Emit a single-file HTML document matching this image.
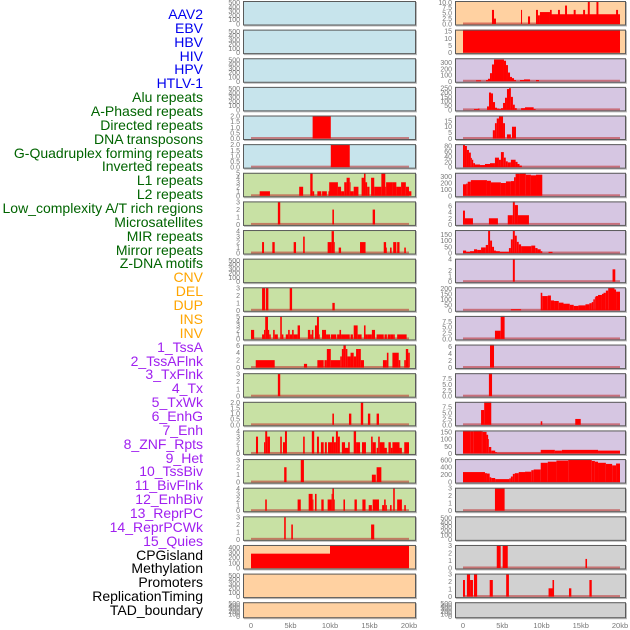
<!DOCTYPE html>
<html><head><meta charset="utf-8">
<style>
html,body{margin:0;padding:0;background:#fff;}
#root{position:relative;width:630px;height:630px;overflow:hidden;font-family:"Liberation Sans",sans-serif;}
.lab{position:absolute;right:427px;font-size:14px;line-height:14px;white-space:nowrap;}
</style></head>
<body>
<div id="root">
<div id="labels"></div>
<svg id="chart" width="630" height="630" style="position:absolute;left:0;top:0"></svg>
</div>
<script>
const trackLabels = ["AAV2","EBV","HBV","HIV","HPV","HTLV-1","Alu repeats","A-Phased repeats","Directed repeats","DNA transposons","G-Quadruplex forming repeats","Inverted repeats","L1 repeats","L2 repeats","Low_complexity A/T rich regions","Microsatellites","MIR repeats","Mirror repeats","Z-DNA motifs","CNV","DEL","DUP","INS","INV","1_TssA","2_TssAFlnk","3_TxFlnk","4_Tx","5_TxWk","6_EnhG","7_Enh","8_ZNF_Rpts","9_Het","10_TssBiv","11_BivFlnk","12_EnhBiv","13_ReprPC","14_ReprPCWk","15_Quies","CPGisland","Methylation","Promoters","ReplicationTiming","TAD_boundary"];
const labelGroups = [6,13,5,15,5];
const groupColors = ["#0000ee","#006400","#ffa500","#a020f0","#000000"];
const xTickLabels = ["0","5kb","10kb","15kb","20kb"];
const xTickValues = [0,5,10,15,20];

const t500=[0,100,200,300,400,500];
const t2=[0,0.5,1.0,1.5,2.0];
// left column segments [startKb,endKb,value]
const segL4=[[7.8,10.1,2]];
const segL5=[[10.1,12.5,2]];
const segL6=[[1.1,2.4,1],[6.1,6.6,2],[7.5,7.8,5],[7.8,8.0,1],[8.4,8.9,1],[9.0,9.6,1],[9.8,10.0,1],[9.9,11.0,3],[11.0,11.4,2],[11.4,11.8,1],[11.8,12.1,3],[12.1,12.5,4],[12.5,12.6,3],[12.6,13.0,1],[13.0,13.6,2],[14.0,14.3,4],[14.3,14.5,5],[14.5,14.7,3],[14.7,15.0,2],[15.2,15.6,4],[15.6,16.5,2],[16.5,17.0,5],[17.0,17.1,2],[17.1,17.9,3],[17.9,18.4,3],[18.4,19.0,2],[19.0,19.6,3],[19.6,20.0,2],[20.0,20.3,1]];
const segL7=[[3.4,3.7,3],[10.3,10.5,2],[15.4,15.7,2]];
const segL8=[[1.4,1.65,2],[2.7,3.0,2],[5.4,5.7,2],[6.6,6.8,3],[9.7,10.2,2],[10.2,10.5,4],[10.5,10.6,2],[11.1,11.4,1],[13.8,14.5,2],[16.8,17.1,2],[17.1,17.2,1],[17.6,17.8,1],[18.0,18.4,2],[18.5,18.8,2],[19.4,19.6,1]];
const segL10=[[1.4,1.8,3],[1.9,2.2,3],[4.9,5.2,3],[10.3,10.6,1]];
const segL11=[[0,0.4,2],[1.4,1.65,1],[1.65,1.8,2],[1.8,2.15,5],[2.15,2.3,2],[2.3,2.5,1],[2.8,3.0,2],[3.0,3.4,1],[3.7,3.9,5],[3.9,4.1,1],[4.4,4.7,1],[4.7,4.9,2],[4.9,5.2,1],[5.2,5.4,2],[5.4,5.9,1],[5.9,6.2,3],[7.2,7.5,2],[7.5,7.7,1],[7.7,7.9,2],[8.1,8.35,3],[8.35,8.6,5],[8.6,8.7,1],[8.99,9.5,2],[9.5,9.75,1],[9.75,10.0,1],[10.1,10.8,1],[10.9,11.2,1],[11.2,11.4,2],[11.4,11.9,1],[11.9,12.5,1],[12.6,12.9,1],[13.0,13.5,3],[13.5,14.0,1],[14.3,14.5,3],[14.5,14.8,1],[14.8,15.3,1],[15.3,15.7,2],[15.9,16.2,1],[16.2,16.8,1],[16.9,17.2,1],[17.3,17.7,1],[17.7,18.0,1],[18.0,18.2,1],[18.5,19.7,1]];
const segL12=[[0.6,3.0,2],[6.7,7.1,1],[8.4,9.2,2],[9.3,9.6,2],[9.6,10.1,5],[10.1,11.3,2],[11.3,11.5,3],[11.5,11.7,5],[11.7,12.0,6],[12.0,12.2,5],[12.2,12.6,3],[12.6,13.0,4],[13.0,13.3,3],[13.3,13.6,5],[13.6,13.9,5],[13.9,14.3,2],[16.7,17.2,2],[17.2,17.4,4],[17.9,18.7,4],[18.7,18.9,2],[19.4,19.6,2],[19.6,19.9,5],[19.9,20.1,4]];
const segL13=[[3.4,3.7,3]];
const segL14=[[10.3,10.5,1],[12.4,12.7,1],[13.9,14.2,2],[14.8,15.1,1],[15.9,16.2,1]];
const segL15=[[0.63,0.89,3],[1.65,1.8,2],[1.8,2.05,4],[2.05,2.4,3],[3.7,3.9,3],[4.05,4.3,2],[4.3,4.55,4],[6.6,6.8,3],[7.7,8.0,4],[8.35,8.6,3],[8.85,9.2,2],[9.35,9.6,2],[9.75,10.25,2],[10.25,10.5,3],[10.5,10.75,2],[10.75,11.0,4],[11.0,11.25,3],[11.5,11.9,2],[11.9,12.4,1],[12.3,12.5,2],[13.0,13.3,4],[13.3,13.8,2],[14.05,14.55,2],[15.2,15.4,3],[15.4,15.8,2],[15.9,16.1,1],[16.1,16.3,3],[16.3,16.9,2],[16.9,17.2,1],[17.4,17.7,2],[17.7,17.9,1],[17.9,18.8,2],[18.8,19.1,1],[19.4,20.0,2]];
const segL16=[[4.2,4.5,2],[6.3,6.7,3],[15.3,15.8,1],[15.9,16.5,2]];
const segL17=[[1.8,2.0,2],[5.9,6.3,2],[7.3,7.8,3],[7.8,7.9,2],[8.1,8.3,3],[8.9,9.2,2],[9.7,10.2,2],[10.2,10.3,3],[10.3,10.5,4],[10.5,10.6,2],[11.7,11.9,2],[13.1,13.4,2],[14.1,14.5,2],[14.9,15.3,1],[15.4,16.2,2],[16.6,16.85,1],[16.85,17.05,2],[17.05,17.2,1],[17.6,17.8,1],[18.0,18.2,4],[18.5,19.1,2],[19.4,19.6,1]];
const segL18=[[4.2,4.4,3],[5.1,5.3,2],[15.2,15.6,2]];
const segL19=[[0,10.0,280],[10.0,20.0,450]];
// right column segments
const segR0=[[3.69,3.95,6.5],[3.95,4.2,2.5],[7.39,7.52,6.5],[8.28,8.54,3.5],[9.3,9.55,6.5],[9.55,9.8,4],[9.8,11.08,5.5],[11.08,20.0,4.5],[11.08,11.3,6.5],[12.1,12.35,6.5],[13.0,13.25,8.5],[14.1,14.35,6.5],[15.3,15.55,6.5],[15.9,16.15,10.5],[17.0,17.25,10.5],[19.5,19.75,6.5]];
const segR1=[[0,20,16]];
const segR2=[[1.66,2.29,15],[2.93,3.18,20],[3.18,3.44,40],[3.44,3.69,130],[3.69,3.95,270],[3.95,5.22,350],[5.22,5.48,330],[5.48,5.73,260],[5.73,5.99,140],[5.99,6.24,70],[6.24,6.5,50],[6.5,6.75,20],[7.26,7.77,20],[7.77,8.54,30],[9.3,9.68,20]];
const segR3=[[1.4,1.9,10],[1.9,2.1,15],[3.06,3.31,40],[3.31,3.57,200],[3.57,3.82,190],[3.82,4.08,90],[4.08,4.33,25],[4.33,4.59,15],[4.59,4.84,10],[4.84,5.1,20],[5.1,5.35,80],[5.35,5.6,140],[5.6,5.86,240],[5.86,6.1,250],[6.1,6.36,150],[6.36,6.6,60],[6.6,6.85,20],[7.4,7.9,20],[7.9,9.0,30],[9.0,9.25,10]];
const segR4=[[3.8,4.07,7],[4.07,4.3,13],[4.3,4.58,17],[4.58,5.1,19],[5.1,5.35,13],[5.6,6.1,3.5],[6.1,6.24,0.5],[6.24,6.75,10]];
const segR5=[[0,0.25,85],[0.25,0.5,80],[0.5,0.76,65],[0.76,1.0,55],[1.0,1.13,35],[1.13,1.3,28],[1.3,1.53,15],[1.53,2.17,10],[2.17,2.8,8],[2.8,3.44,12],[3.44,4.07,15],[4.07,4.58,36],[4.58,4.83,28],[4.83,5.2,57],[5.2,5.45,36],[5.45,5.7,22],[5.7,6.1,18],[6.1,6.7,28],[6.7,6.95,20],[6.95,7.2,12],[7.2,7.5,6]];
const segR6=[[0,0.4,180],[0.4,0.6,190],[0.6,1.0,220],[1.0,3.05,245],[3.05,3.56,235],[3.56,4.83,210],[4.83,5.47,200],[5.47,6.1,225],[6.1,6.5,230],[6.5,6.7,290],[6.7,7.25,345],[7.25,8.0,355],[8.0,8.65,330],[8.65,9.3,320],[9.3,10.1,330]];
const segR7=[[0,0.25,4.5],[0.25,1.27,2],[3.3,4.45,2],[5.7,6.35,3],[6.35,6.6,7.5],[6.6,7.0,6.3],[7.0,8.4,3]];
const segR8=[[0,0.4,20],[0.4,0.9,10],[0.9,1.4,15],[1.4,1.8,30],[1.8,2.3,25],[2.3,2.9,45],[2.9,3.2,65],[3.2,3.45,180],[3.45,3.7,100],[3.7,3.95,50],[3.95,4.2,20],[4.2,4.7,15],[4.7,5.85,10],[5.85,6.1,40],[6.1,6.35,110],[6.35,6.6,180],[6.6,6.85,140],[6.85,7.1,90],[7.1,7.4,70],[7.4,8.7,55],[8.7,9.2,60],[9.2,9.5,40],[9.5,9.9,30],[9.9,10.1,15],[10.9,11.4,10]];
const segR9=[[6.35,6.6,4],[19.05,19.4,2.2]];
const segR10=[[6.1,7.4,10],[9.9,10.1,160],[10.1,10.8,130],[10.8,11.2,135],[11.2,11.6,90],[11.6,12.2,85],[12.2,12.8,70],[12.8,13.6,60],[13.6,14.1,50],[14.1,14.7,40],[14.7,15.6,45],[15.6,16.1,55],[16.1,16.4,65],[16.4,16.6,75],[16.6,16.8,100],[16.8,16.9,120],[16.9,17.2,130],[17.2,17.7,140],[17.7,17.9,150],[17.9,18.2,160],[18.2,18.5,180],[18.5,19.3,205],[19.3,19.5,190],[19.5,20.0,170]];
const segR11=[[4.07,4.8,3.5],[4.8,5.3,9.8]];
const segR12=[[3.44,3.95,6.5]];
const segR13=[[3.3,3.7,9.8]];
const segR14=[[2.3,2.7,6.3],[2.7,3.6,9.8],[9.9,10.1,1.5],[14.3,15.0,2.5]];
const segR15=[[0,1.0,160],[1.0,1.3,155],[1.3,2.3,160],[2.3,2.5,155],[2.5,3.0,150],[3.0,3.2,130],[3.2,3.3,100],[3.3,3.6,45],[3.6,4.1,20],[4.1,4.3,10],[4.3,9.9,5],[9.9,11.7,25],[11.7,12.6,20],[12.6,17.2,25],[17.2,20.0,20]];
const segR16=[[0,2.8,270],[2.8,3.05,240],[3.05,3.4,230],[3.4,3.6,130],[3.6,4.1,110],[4.1,5.9,80],[5.9,6.1,100],[6.1,6.35,150],[6.35,6.6,220],[6.6,7.1,240],[7.1,7.9,270],[7.9,8.7,280],[8.7,9.0,320],[9.0,9.9,340],[9.9,10.8,520],[10.8,11.9,550],[11.9,13.4,580],[13.4,16.4,600],[16.4,16.8,570],[16.8,17.2,550],[17.2,18.2,520],[18.2,19.0,490],[19.0,19.5,450],[19.5,20.0,500]];
const segR17=[[4.07,5.3,3]];
const segR19=[[4.3,4.8,3],[5.05,5.7,3],[15.6,15.8,1.2]];
const segR20=[[0,0.25,2.2],[0.5,0.9,3],[0.9,1.27,2.2],[1.4,1.8,3],[3.4,3.8,2.2],[5.5,5.85,3],[10.9,11.4,1.1],[11.4,11.6,2.2],[13.5,13.8,1.1],[16.1,16.4,2.2]];

const BLUE="#c7e4ec",GREEN="#c8e1a4",PEACH="#ffd1a1",LAV="#d6c6e2",GRAY="#d1d1d1";
// [col,row,bg,ymax,ticks,segs]
const panels=[
[0,0,BLUE,540,t500,null],[0,1,BLUE,540,t500,null],[0,2,BLUE,540,t500,null],[0,3,BLUE,540,t500,null],
[0,4,BLUE,2.05,t2,segL4],[0,5,BLUE,2.05,t2,segL5],
[0,6,GREEN,5.1,[0,1,2,3,4,5],segL6],[0,7,GREEN,3.1,[0,1,2,3],segL7],[0,8,GREEN,4.2,[0,1,2,3,4],segL8],
[0,9,GREEN,540,t500,null],[0,10,GREEN,3.1,[0,1,2,3],segL10],[0,11,GREEN,5.1,[0,1,2,3,4,5],segL11],
[0,12,GREEN,6.2,[0,2,4,6],segL12],[0,13,GREEN,3.1,[0,1,2,3],segL13],[0,14,GREEN,2.05,t2,segL14],
[0,15,GREEN,4.1,[0,1,2,3,4],segL15],[0,16,GREEN,3.1,[0,1,2,3],segL16],[0,17,GREEN,4.1,[0,1,2,3,4],segL17],
[0,18,GREEN,3.1,[0,1,2,3],segL18],[0,19,PEACH,450,[0,100,200,300,400],segL19],[0,20,PEACH,540,t500,null],[0,21,PEACH,540,t500,null],
[1,0,PEACH,10.6,[0,2.5,5.0,7.5,10.0],segR0],[1,1,PEACH,16,[0,5,10,15],segR1],[1,2,LAV,370,[0,100,200,300],segR2],
[1,3,LAV,265,[0,50,100,150,200,250],segR3],[1,4,LAV,19.5,[0,5,10,15],segR4],[1,5,LAV,87,[0,20,40,60,80],segR5],
[1,6,LAV,360,[0,100,200,300],segR6],[1,7,LAV,7.5,[0,2,4,6],segR7],[1,8,LAV,185,[0,50,100,150],segR8],
[1,9,LAV,4.1,[0,1,2,4],segR9],[1,10,LAV,210,[0,50,100,150,200],segR10],[1,11,LAV,9.8,[0,2.5,5.0,7.5],segR11],
[1,12,LAV,6.5,[0,2,4,6],segR12],[1,13,LAV,9.8,[0,2.5,5.0,7.5],segR13],[1,14,LAV,9.8,[0,2.5,5.0,7.5],segR14],
[1,15,LAV,160,[0,50,100,150],segR15],[1,16,LAV,620,[0,200,400,600],segR16],[1,17,GRAY,3.05,[0,1,2,3],segR17],
[1,18,GRAY,540,t500,null],[1,19,GRAY,3.05,[0,1,2,3],segR19],[1,20,GRAY,3.05,[0,1,2,3],segR20],[1,21,GRAY,540,t500,null]
];

const cols=[{x0:243,w:173,k0:251,k20:409,tx:240},{x0:455,w:171,k0:463,k20:620,tx:452}];
const NS="http://www.w3.org/2000/svg";
const svg=document.getElementById('chart');
function mk(tag,attrs){const e=document.createElementNS(NS,tag);for(const k in attrs)e.setAttribute(k,attrs[k]);return e;}

// labels
const labDiv=document.getElementById('labels');
let gi=0,cnt=0;
trackLabels.forEach((t,i)=>{
  while(cnt>=labelGroups[gi]){cnt=0;gi++;}
  cnt++;
  const d=document.createElement('div');
  d.className='lab';
  d.style.top=(15+i*13.86-8)+'px';
  d.style.color=groupColors[gi];
  d.textContent=t;
  
  
  labDiv.appendChild(d);
});

panels.forEach(p=>{
  const [c,r,bg,ymax,ticks,segs]=p;
  const C=cols[c];
  const top=1+r*28.63, h=(r===21?16:24.5), bot=top+h;
  const xs=v=>C.k0+(C.k20-C.k0)*v/20;
  const y0=bot-1.5;
  const ys=v=>y0-(y0-top)*v/ymax;
  const g=mk('g',{});
  
  
  svg.appendChild(g);
  const sh=mk('rect',{x:C.x0+1,y:top+1,width:C.w,height:h,fill:'#bbb'});
  
  
  g.appendChild(sh);
  const bgR=mk('rect',{x:C.x0,y:top,width:C.w,height:h,fill:bg});
  
  
  g.appendChild(bgR);
  if(segs){
    const bl=mk('rect',{x:xs(0),y:y0-1.5,width:xs(20)-xs(0),height:2,fill:'rgba(190,40,40,0.55)'});
    
    
    g.appendChild(bl);
    segs.forEach(s=>{
      const y=ys(Math.min(s[2],ymax));
      const b=mk('rect',{x:xs(s[0]),y:y,width:Math.max(0.8,xs(s[1])-xs(s[0])),height:y0-y,fill:'#ff0000'});
      
      
      g.appendChild(b);
    });
  }
  const br=mk('rect',{x:C.x0+0.5,y:top+0.5,width:C.w-1,height:h-1,fill:'none',stroke:'#5a5a5a','stroke-width':1});
  
  
  g.appendChild(br);
  ticks.forEach(t=>{
    const tt=mk('text',{x:C.tx,y:ys(t)+2.5,'text-anchor':'end','font-size':'7px',fill:'#777','font-family':'Liberation Sans, sans-serif'});
    tt.textContent=(ymax<3 && ticks.length===5 && t%1===0)?t.toFixed(1):(ticks.some(v=>v%1!==0)?t.toFixed(1):String(t));
    
    
    g.appendChild(tt);
  });
});

cols.forEach(C=>{
  xTickValues.forEach((v,i)=>{
    const x=C.k0+(C.k20-C.k0)*v/20;
    const t=mk('text',{x:x,y:628,'text-anchor':'middle','font-size':'7.5px',fill:'#777','font-family':'Liberation Sans, sans-serif'});
    t.textContent=xTickLabels[i];
    
    
    svg.appendChild(t);
  });
});
</script>
</body></html>
